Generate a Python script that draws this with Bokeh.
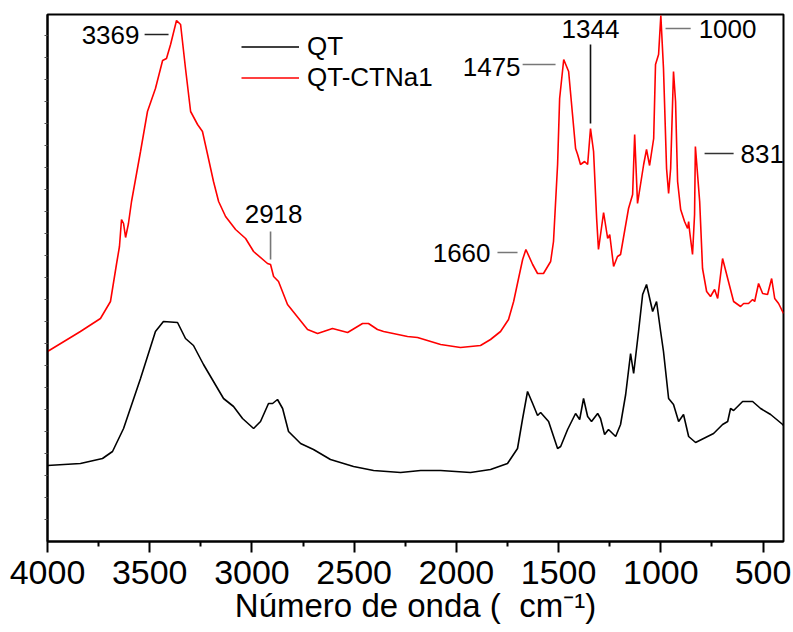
from bokeh.plotting import figure
from bokeh.models import (Range1d, Legend, LegendItem, ColumnDataSource, FixedTicker)
from bokeh.core.properties import value
from bokeh.embed import file_html
from bokeh.resources import INLINE

# ---- data (wavenumber cm^-1, arbitrary absorbance units) ----
qt_ctna1_wn = [4000, 3839, 3741, 3692, 3662, 3648, 3638, 3628, 3618, 3604, 3589, 3545, 3511,
               3472, 3437, 3418, 3398, 3369, 3349, 3325, 3300, 3266, 3242, 3217, 3188, 3163,
               3129, 3080, 3031, 2992, 2924, 2909, 2894, 2870, 2826, 2728, 2679, 2606, 2532,
               2459, 2430, 2386, 2356, 2239, 2190, 2077, 1980, 1882, 1833, 1784, 1745, 1720,
               1696, 1676, 1660, 1627, 1603, 1574, 1539, 1525, 1505, 1495, 1475, 1451, 1432,
               1417, 1407, 1393, 1373, 1358, 1344, 1329, 1314, 1305, 1280, 1260, 1250, 1231,
               1212, 1197, 1158, 1138, 1128, 1114, 1084, 1070, 1055, 1035, 1026, 1011, 1000,
               987, 972, 962, 952, 938, 928, 918, 903, 884, 869, 864, 859, 845, 835, 831, 810,
               796, 776, 757, 737, 722, 698, 673, 644, 610, 595, 571, 551, 541, 522, 502, 478,
               458, 443, 424, 400]
qt_ctna1_abs = [190, 210, 223, 240, 278, 295, 322, 318, 304, 318, 340, 390, 430,
                453, 481, 483, 497, 521, 517, 473, 430, 417, 410, 387, 360, 340,
                325, 312, 303, 290, 278, 277, 265, 260, 237, 212, 208, 213, 209,
                218, 218, 212, 210, 205, 204, 197, 194, 196, 202, 210, 222, 240,
                263, 282, 292, 277, 268, 268, 280, 300, 377, 443, 482, 470, 427,
                393, 387, 377, 380, 377, 413, 390, 323, 292, 329, 303, 307, 275,
                285, 287, 333, 347, 407, 338, 377, 392, 376, 403, 477, 487, 526,
                473, 373, 348, 373, 470, 440, 360, 332, 320, 313, 320, 310, 287, 327, 395, 340,
                273, 250, 245, 252, 243, 283, 263, 240, 235, 238, 238, 242, 240, 258, 248, 247,
                263, 243, 238, 228]

qt_wn = [4000, 3839, 3731, 3682, 3628, 3545, 3472, 3433, 3364, 3325, 3286, 3237, 3188,
         3139, 3090, 3046, 2992, 2958, 2919, 2899, 2875, 2850, 2821, 2762, 2699, 2616,
         2503, 2405, 2273, 2175, 2077, 1931, 1833, 1750, 1701, 1676, 1652, 1627, 1603,
         1588, 1549, 1505, 1490, 1456, 1417, 1397, 1378, 1358, 1339, 1309, 1295, 1275,
         1256, 1221, 1197, 1172, 1148, 1133, 1109, 1089, 1070, 1040, 1021, 1001, 987,
         962, 938, 913, 889, 864, 830, 791, 742, 698, 673, 659, 644, 600, 551, 512, 463,
         404, 400]
qt_abs = [76, 78, 83, 90, 113, 163, 210, 220, 219, 203, 196, 177, 160,
          143, 135, 123, 113, 120, 138, 138, 142, 133, 110, 98, 92, 82,
          75, 71, 69, 71, 71, 69, 72, 78, 93, 123, 150, 138, 126,
          129, 120, 93, 95, 112, 128, 122, 143, 125, 120, 128, 123, 107,
          112, 105, 117, 147, 188, 168, 210, 247, 257, 230, 240, 210, 190,
          143, 137, 120, 127, 105, 99, 103, 108, 117, 120, 133, 131, 140, 140, 133, 127,
          117, 116]

series_names = ["QT", "QT-CTNa1"]
series_colors = ["#000000", "#ff0000"]

x_major_ticks = [4000, 3500, 3000, 2500, 2000, 1500, 1000, 500]
x_minor_ticks = [3750, 3250, 2750, 2250, 1750, 1250, 750]
y_minor_ticks = [22, 44, 66, 88, 110, 132, 154, 176, 198, 220, 242, 264, 286,
                 308, 330, 352, 374, 396, 418, 440, 462, 484, 506]

# peak annotations: text, anchor (wn, abs), alignment, leader line (x0, y0, x1, y1), colour
peak_text = ["3369", "1475", "1660", "2918", "1344", "1000", "831"]
peak_tx = [3550, 1686, 1833, 2894, 1344, 815, 610]
peak_ty = [507, 475, 289, 328, 513, 513, 388]
peak_align = ["right", "right", "right", "center", "center", "left", "left"]
lead_x0 = [3525, 1676, 1799, 2909, 1344, 977, 786]
lead_y0 = [507, 477, 289, 310, 497, 513, 388]
lead_x1 = [3408, 1515, 1701, 2909, 1344, 854, 644]
lead_y1 = [507, 477, 289, 282, 418, 513, 388]
lead_color = ["#222222", "#777777", "#777777", "#777777", "#111111", "#777777", "#333333"]

FONT = "Liberation Sans"

p = figure(width=793, height=632, x_range=Range1d(4000, 400), y_range=Range1d(0, 527),
           output_backend="svg", toolbar_location=None,
           min_border_left=47, min_border_right=10, min_border_top=14, min_border_bottom=91)
p.background_fill_color = "white"
p.border_fill_color = "white"
p.outline_line_color = "black"
p.outline_line_width = 2
p.xgrid.visible = False
p.ygrid.visible = False

r_qt = p.line(qt_wn, qt_abs, line_color=series_colors[0], line_width=1.6)
r_ct = p.line(qt_ctna1_wn, qt_ctna1_abs, line_color=series_colors[1], line_width=1.6)

# x axis
xa = p.xaxis[0]
xa.ticker = FixedTicker(ticks=x_major_ticks, minor_ticks=x_minor_ticks)
xa.axis_line_width = 2
xa.major_tick_line_width = 2
xa.minor_tick_line_width = 2
xa.major_tick_out = 11
xa.major_tick_in = 0
xa.minor_tick_out = 5
xa.minor_tick_in = 0
xa.major_label_text_font = FONT
xa.major_label_text_font_size = "34px"
xa.major_label_text_color = "black"
xa.major_label_standoff = 8
xa.axis_label = "Número de onda (\u00a0\u00a0cm⁻¹)"
xa.axis_label_text_font = FONT
xa.axis_label_text_font_size = "33px"
xa.axis_label_text_font_style = "normal"
xa.axis_label_text_color = "black"
xa.axis_label_standoff = 0

# y axis: no labels, only tiny ticks
ya = p.yaxis[0]
ya.ticker = FixedTicker(ticks=[], minor_ticks=y_minor_ticks)
ya.axis_line_width = 2
ya.major_tick_out = 0
ya.major_tick_in = 0
ya.minor_tick_out = 3
ya.minor_tick_in = 0
ya.minor_tick_line_color = "#555555"

# leader lines
p.segment(x0=lead_x0, y0=lead_y0, x1=lead_x1, y1=lead_y1, line_color=lead_color, line_width=1.6)

# peak labels
for al in ["right", "center", "left"]:
    idx = [i for i, a in enumerate(peak_align) if a == al]
    src = ColumnDataSource(dict(x=[peak_tx[i] for i in idx], y=[peak_ty[i] for i in idx],
                                t=[peak_text[i] for i in idx]))
    p.text(x="x", y="y", text="t", source=src, text_align=al, text_baseline="middle",
           text_font=value(FONT), text_font_size="26px", text_color="black")

legend = Legend(items=[LegendItem(label=series_names[0], renderers=[r_qt]),
                       LegendItem(label=series_names[1], renderers=[r_ct])],
                location=(194, 448), orientation="vertical")
legend.border_line_color = None
legend.background_fill_alpha = 0
legend.padding = 0
legend.margin = 0
legend.spacing = 0
legend.glyph_width = 58
legend.glyph_height = 31
legend.label_height = 31
legend.label_standoff = 8
legend.label_text_font = FONT
legend.label_text_font_size = "26px"
legend.label_text_color = "black"
p.add_layout(legend, "center")

open("out.html", "w").write(file_html(p, INLINE))
